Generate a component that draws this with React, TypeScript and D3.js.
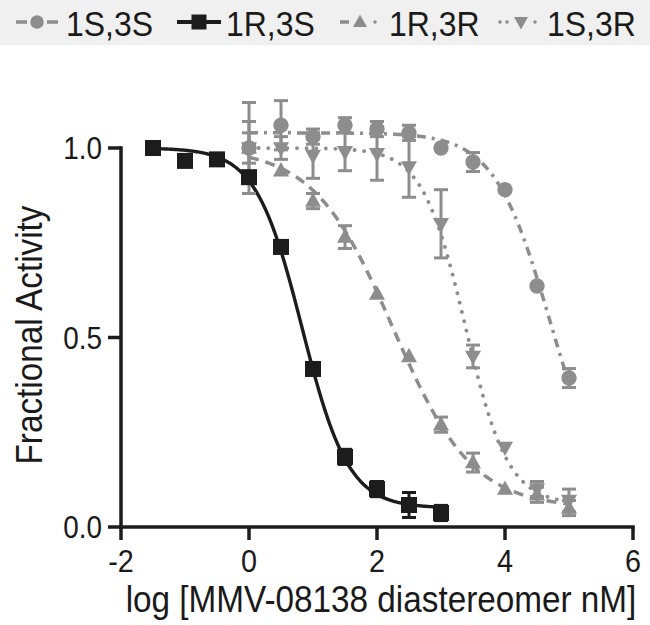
import React, { useEffect, useRef } from 'react';
import * as d3 from 'd3';

// series names (legend order)
const seriesNames = ['1S,3S', '1R,3S', '1R,3R', '1S,3R'];

// log concentration (nM) per series
const x1S3S = [0, 0.5, 1, 1.5, 2, 2.5, 3, 3.5, 4, 4.5, 5];
const y1S3S = [1.0, 1.06, 1.03, 1.06, 1.05, 1.04, 1.0, 0.963, 0.89, 0.636, 0.393];
const e1S3S = [0.12, 0.065, 0.02, 0.02, 0.02, 0.02, 0.0, 0.025, 0.0, 0.0, 0.025];

const x1R3S = [-1.5, -1, -0.5, 0, 0.5, 1, 1.5, 2, 2.5, 3];
const y1R3S = [1.0, 0.966, 0.97, 0.923, 0.739, 0.417, 0.185, 0.1, 0.058, 0.037];
const e1R3S = [0, 0, 0, 0, 0, 0, 0.02, 0.02, 0.033, 0.02];

const x1R3R = [0, 0.5, 1, 1.5, 2, 2.5, 3, 3.5, 4, 4.5, 5];
const y1R3R = [1.0, 0.94, 0.86, 0.765, 0.615, 0.45, 0.27, 0.17, 0.1, 0.085, 0.05];
const e1R3R = [0.07, 0, 0.02, 0.03, 0, 0, 0.02, 0.025, 0, 0.02, 0.02];

const x1S3R = [0, 0.5, 1, 1.5, 2, 2.5, 3, 3.5, 4, 4.5, 5];
const y1S3R = [1.0, 1.0, 0.98, 0.99, 0.985, 0.95, 0.8, 0.45, 0.21, 0.1, 0.07];
const e1S3R = [0.04, 0.03, 0.06, 0.05, 0.07, 0.08, 0.09, 0.03, 0, 0.02, 0.03];

// 4-parameter logistic fit parameters
const fitTop = [1.04, 1.0, 1.0, 1.0];
const fitBottom = [0.05, 0.05, 0.05, 0.06];
const fitLogIC50 = [4.7, 0.83, 2.25, 3.38];
const fitHill = [1.0, 1.2, 0.7, 1.3];
const fitFrom = [0, -1.5, 0, 0];
const fitTo = [5, 3, 5, 5];

const xTicks = [-2, 0, 2, 4, 6];
const yTicks = [0, 0.5, 1.0];

const GRAY = '#8d8d8d';
const BLACK = '#1c1c1c';
const TEXT = '#1a1a1a';
const FONT = '"Liberation Sans", Arial, Helvetica, sans-serif';
const SQUEEZE = 0.9; // glyphs in the original are a bit narrower than Arial

const App: React.FC = () => {
  const svgRef = useRef<SVGSVGElement>(null);

  useEffect(() => {
    if (!svgRef.current) return;
    const svg = d3.select(svgRef.current);
    svg.selectAll('*').remove();

    const x = d3.scaleLinear().domain([-2, 6]).range([121, 633]);
    const y = d3.scaleLinear().domain([0, 1]).range([527, 148]);

    const label = (parent: any, tx: number, ty: number, txt: string, size: number, anchor: string, rot = 0) =>
      parent.append('text')
        .attr('transform', `translate(${tx},${ty}) rotate(${rot}) scale(${SQUEEZE},1)`)
        .attr('text-anchor', anchor)
        .attr('font-family', FONT)
        .attr('font-size', size)
        .attr('fill', TEXT)
        .text(txt);

    const series = [
      { xs: x1S3S, ys: y1S3S, es: e1S3S, color: GRAY, shape: 'circle', dash: '9,6,3,6', width: 3.5, cap: 'butt' },
      { xs: x1R3S, ys: y1R3S, es: e1R3S, color: BLACK, shape: 'square', dash: null, width: 3.4, cap: 'butt' },
      { xs: x1R3R, ys: y1R3R, es: e1R3R, color: GRAY, shape: 'triUp', dash: '10,7', width: 3.5, cap: 'butt' },
      { xs: x1S3R, ys: y1S3R, es: e1S3R, color: GRAY, shape: 'triDown', dash: '0.1,9.5', width: 3.8, cap: 'round' },
    ];

    const drawMarker = (g: any, shape: string, cx: number, cy: number, color: string, s: number) => {
      if (shape === 'circle') {
        g.append('circle').attr('cx', cx).attr('cy', cy).attr('r', s * 0.48).attr('fill', color);
      } else if (shape === 'square') {
        g.append('rect').attr('x', cx - s / 2).attr('y', cy - s / 2).attr('width', s).attr('height', s).attr('fill', color);
      } else if (shape === 'triUp') {
        const h = s * 0.9;
        g.append('path')
          .attr('d', `M${cx},${cy - h * 0.6}L${cx + s / 2},${cy + h * 0.4}L${cx - s / 2},${cy + h * 0.4}Z`)
          .attr('fill', color);
      } else {
        const h = s * 0.9;
        g.append('path')
          .attr('d', `M${cx},${cy + h * 0.6}L${cx + s / 2},${cy - h * 0.4}L${cx - s / 2},${cy - h * 0.4}Z`)
          .attr('fill', color);
      }
    };

    // Legend band
    svg.append('rect').attr('x', 0).attr('y', 0).attr('width', 650).attr('height', 45).attr('fill', '#f0f0f0');
    const legendCx = [37, 199, 360, 521];
    const legendTx = [66, 226, 389, 547];
    seriesNames.forEach((name, i) => {
      const s = series[i];
      const lg = svg.append('g');
      const cy = 22;
      if (i === 0) {
        lg.append('line').attr('x1', legendCx[i] - 21).attr('x2', legendCx[i] - 10).attr('y1', cy).attr('y2', cy)
          .attr('stroke', s.color).attr('stroke-width', 3.5);
        lg.append('line').attr('x1', legendCx[i] + 10).attr('x2', legendCx[i] + 21).attr('y1', cy).attr('y2', cy)
          .attr('stroke', s.color).attr('stroke-width', 3.5);
      } else if (i === 1) {
        lg.append('line').attr('x1', legendCx[i] - 22).attr('x2', legendCx[i] + 22).attr('y1', cy).attr('y2', cy)
          .attr('stroke', s.color).attr('stroke-width', 4);
      } else if (i === 2) {
        lg.append('line').attr('x1', legendCx[i] - 20).attr('x2', legendCx[i] - 11).attr('y1', cy).attr('y2', cy)
          .attr('stroke', s.color).attr('stroke-width', 3.5);
        lg.append('circle').attr('cx', legendCx[i] + 15).attr('cy', cy).attr('r', 1.8).attr('fill', s.color);
      } else {
        [-21, -14, 14].forEach(dx => {
          lg.append('circle').attr('cx', legendCx[i] + dx).attr('cy', cy).attr('r', 1.8).attr('fill', s.color);
        });
      }
      drawMarker(lg, s.shape, legendCx[i], cy, s.color, i === 1 ? 15 : 14);
      label(lg, legendTx[i], 36, name, 35.5, 'start');
    });

    // Axes
    const axisG = svg.append('g');
    axisG.append('line').attr('x1', x(-2)).attr('x2', x(6)).attr('y1', y(0)).attr('y2', y(0))
      .attr('stroke', BLACK).attr('stroke-width', 3.5).attr('stroke-linecap', 'square');
    axisG.append('line').attr('x1', x(-2)).attr('x2', x(-2)).attr('y1', y(0)).attr('y2', y(1))
      .attr('stroke', BLACK).attr('stroke-width', 3.5).attr('stroke-linecap', 'square');
    xTicks.forEach(t => {
      axisG.append('line').attr('x1', x(t)).attr('x2', x(t)).attr('y1', y(0)).attr('y2', y(0) + 13)
        .attr('stroke', BLACK).attr('stroke-width', 3.5);
      label(axisG, x(t), 572, String(t), 32, 'middle');
    });
    yTicks.forEach(t => {
      axisG.append('line').attr('x1', x(-2) - 13).attr('x2', x(-2)).attr('y1', y(t)).attr('y2', y(t))
        .attr('stroke', BLACK).attr('stroke-width', 3.5);
      label(axisG, 102, y(t) + 11, t.toFixed(1), 31, 'end');
    });
    label(axisG, 42, 335, 'Fractional Activity', 37, 'middle', -90);
    label(axisG, 381, 612, 'log [MMV-08138 diastereomer nM]', 37, 'middle');

    // Fitted curves
    const curveG = svg.append('g');
    series.forEach((s, i) => {
      const pts = d3.range(fitFrom[i], fitTo[i] + 0.0001, 0.02).map(v => [
        v,
        fitBottom[i] + (fitTop[i] - fitBottom[i]) / (1 + Math.pow(10, (v - fitLogIC50[i]) * fitHill[i])),
      ]);
      const line = d3.line<number[]>().x(d => x(d[0])).y(d => y(d[1]));
      curveG.append('path').datum(pts).attr('d', line).attr('fill', 'none')
        .attr('stroke', s.color).attr('stroke-width', s.width)
        .attr('stroke-dasharray', s.dash).attr('stroke-linecap', s.cap);
    });

    // Error bars and markers (gray first, black on top)
    const order = [0, 2, 3, 1];
    order.forEach(i => {
      const s = series[i];
      const g = svg.append('g');
      s.xs.forEach((xv, j) => {
        const e = s.es[j];
        if (e > 0) {
          const cx = x(xv);
          g.append('line').attr('x1', cx).attr('x2', cx).attr('y1', y(s.ys[j] + e)).attr('y2', y(s.ys[j] - e))
            .attr('stroke', s.color).attr('stroke-width', 3);
          [s.ys[j] + e, s.ys[j] - e].forEach(v => {
            g.append('line').attr('x1', cx - 7).attr('x2', cx + 7).attr('y1', y(v)).attr('y2', y(v))
              .attr('stroke', s.color).attr('stroke-width', 3);
          });
        }
      });
      s.xs.forEach((xv, j) => {
        drawMarker(g, s.shape, x(xv), y(s.ys[j]), s.color, 16);
      });
    });
  }, []);

  return (
    <svg
      ref={svgRef}
      width={650}
      height={625}
      style={{ position: 'absolute', left: 0, top: 0, background: '#ffffff' }}
    />
  );
};

export default App;
